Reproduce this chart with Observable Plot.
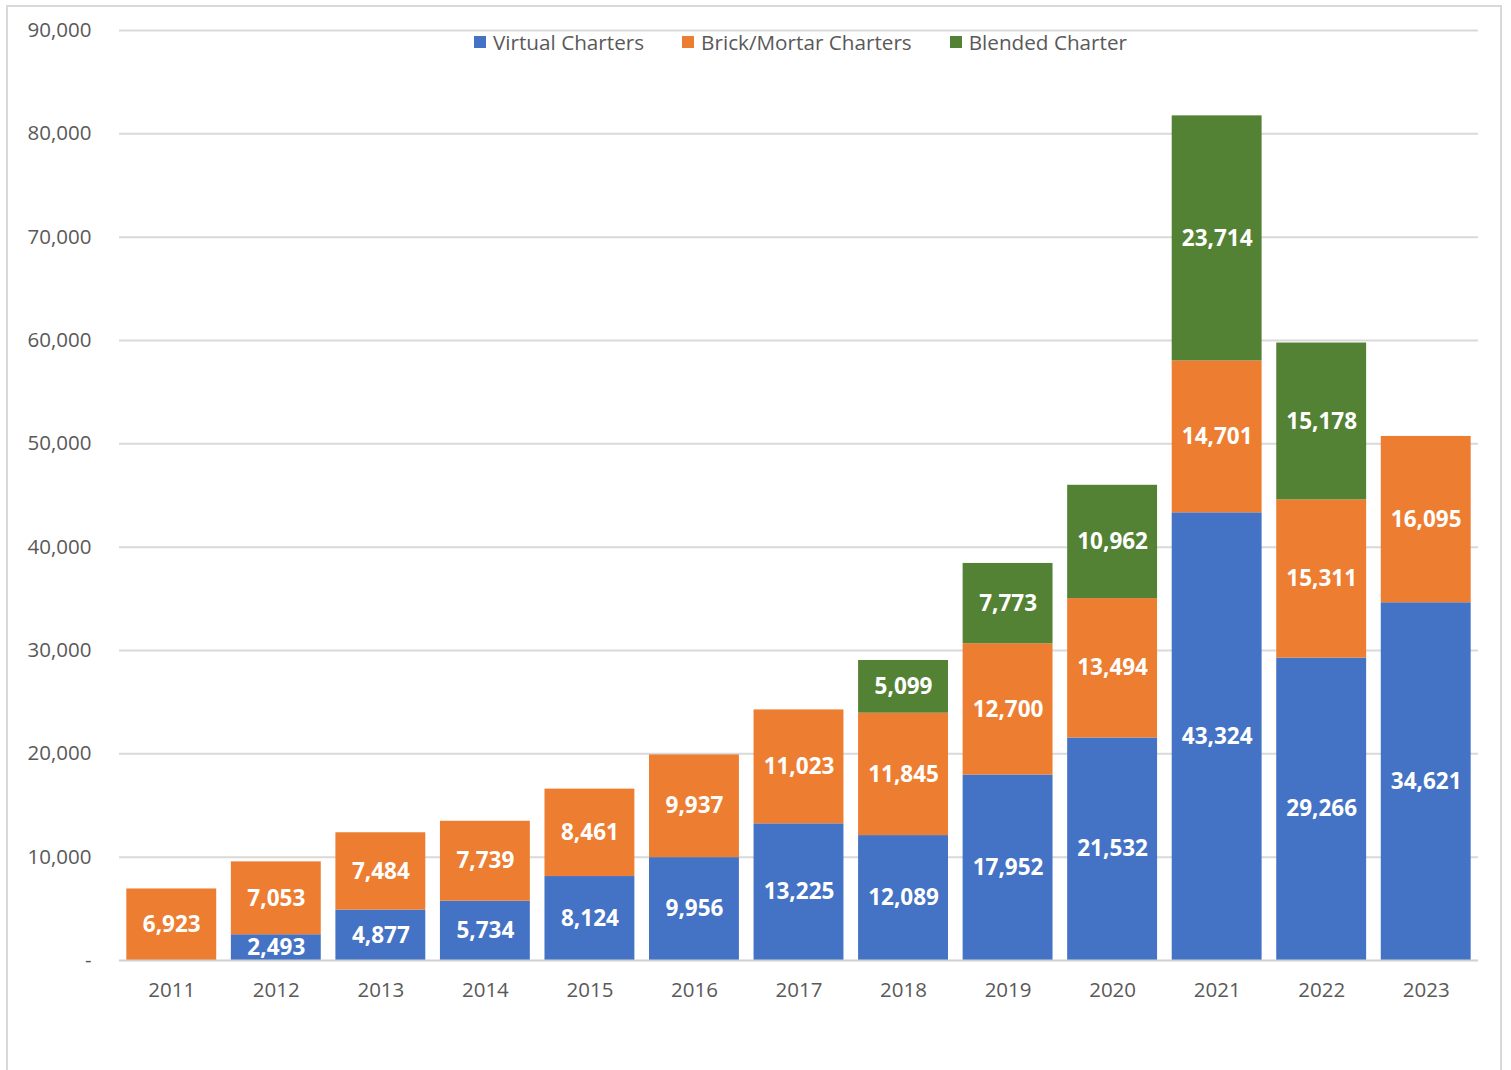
<!DOCTYPE html>
<html>
<head>
<meta charset="utf-8">
<script src="https://cdn.jsdelivr.net/npm/d3@7"></script>
<script src="https://cdn.jsdelivr.net/npm/@observablehq/plot@0.6"></script>
<style>
  html, body { margin: 0; padding: 0; background: #fff; }
  #wrap { position: relative; width: 1511px; height: 1070px; overflow: hidden; font-family: "Open Sans", sans-serif; }
  #frame { position: absolute; left: 6px; top: 5px; width: 1496px; height: 1100px; border: 2px solid #d9d9d9; box-sizing: border-box; }
  #legend { position: absolute; top: 28px; left: 0; width: 1511px; display: flex; justify-content: center; padding-left: 90px; box-sizing: border-box; font-size: 20.7px; color: #595959; line-height: 28px; }
  #legend span.item { display: inline-flex; align-items: center; margin: 0 19px; }
  #legend i { display: inline-block; width: 12px; height: 12px; margin-right: 7px; }
  #chart { position: absolute; left: 0; top: 0; }
</style>
</head>
<body>
<div id="wrap">
  <div id="frame"></div>
  <div id="chart"></div>
  <div id="legend"></div>
</div>
<script>
const years = ["2011","2012","2013","2014","2015","2016","2017","2018","2019","2020","2021","2022","2023"];
const seriesNames = ["Virtual Charters", "Brick/Mortar Charters", "Blended Charter"];
const seriesColors = ["#4472C4", "#ED7D31", "#548235"];
const virtual = [0, 2493, 4877, 5734, 8124, 9956, 13225, 12089, 17952, 21532, 43324, 29266, 34621];
const brickMortar = [6923, 7053, 7484, 7739, 8461, 9937, 11023, 11845, 12700, 13494, 14701, 15311, 16095];
const blended = [0, 0, 0, 0, 0, 0, 0, 5099, 7773, 10962, 23714, 15178, 0];
const yTicks = [0, 10000, 20000, 30000, 40000, 50000, 60000, 70000, 80000, 90000];

const seriesValues = [virtual, brickMortar, blended];
const data = [];
years.forEach((y, i) => {
  seriesValues.forEach((vals, s) => {
    if (vals[i] > 0) data.push({year: y, series: seriesNames[s], value: vals[i]});
  });
});

const fmt = d3.format(",");
const font = "'Open Sans', sans-serif";

const chart = Plot.plot({
  width: 1511,
  height: 1070,
  marginLeft: 119,
  marginRight: 33,
  marginTop: 30,
  marginBottom: 110,
  style: {fontFamily: font, fontSize: "20.5px", color: "#595959", background: "transparent"},
  x: {domain: years, paddingInner: 0.14, paddingOuter: 0.07, round: false, label: null, tickSize: 0, tickPadding: 22},
  y: {domain: [0, 90000], ticks: yTicks, label: null, tickSize: 0, tickPadding: 28,
      tickFormat: d => d === 0 ? "-" : fmt(d)},
  color: {domain: seriesNames, range: seriesColors},
  marks: [
    Plot.gridY(yTicks.filter(d => d > 0), {stroke: "#d9d9d9", strokeOpacity: 1, strokeWidth: 2}),
    Plot.barY(data, {x: "year", y: "value", fill: "series", order: seriesNames}),
    Plot.ruleY([0], {stroke: "#d0d0d0", strokeWidth: 2}),
    Plot.text(data, Plot.stackY({x: "year", y: "value", z: "series", order: seriesNames,
      text: d => fmt(d.value), fill: "white", fontWeight: "bold", fontSize: 22.5})),
  ]
});
document.getElementById("chart").appendChild(chart);

const legend = document.getElementById("legend");
seriesNames.forEach((n, i) => {
  const s = document.createElement("span");
  s.className = "item";
  s.innerHTML = `<i style="background:${seriesColors[i]}"></i>${n}`;
  legend.appendChild(s);
});
</script>
</body>
</html>
